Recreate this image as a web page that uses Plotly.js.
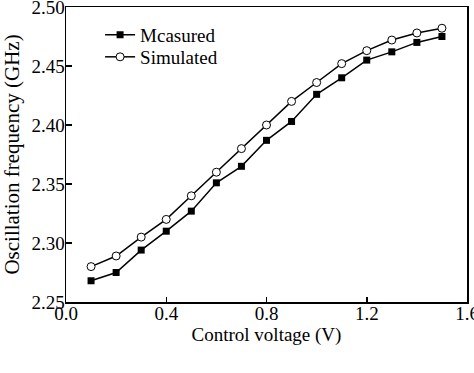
<!DOCTYPE html>
<html><head><meta charset="utf-8">
<script src="https://cdn.plot.ly/plotly-3.0.1.min.js"></script>
<style>html,body{margin:0;padding:0;background:#fff;}#chart{width:474px;height:373px;}</style>
</head><body><div id="chart"></div>
<script>
const voltage = [0.1,0.2,0.3,0.4,0.5,0.6,0.7,0.8,0.9,1.0,1.1,1.2,1.3,1.4,1.5];
const measured = [2.268,2.275,2.294,2.310,2.327,2.351,2.365,2.387,2.403,2.426,2.440,2.455,2.462,2.470,2.475];
const simulated = [2.280,2.289,2.305,2.320,2.340,2.360,2.380,2.400,2.420,2.436,2.452,2.463,2.472,2.478,2.482];
const xTicks = [0.0,0.4,0.8,1.2,1.6];
const xTickText = ['0.0','0.4','0.8','1.2','1.6'];
const yTicks = [2.25,2.30,2.35,2.40,2.45,2.50];
const yTickText = ['2.25','2.30','2.35','2.40','2.45','2.50'];

const fam = '"Liberation Serif", "Times New Roman", serif';
const font = {family:fam, size:19, color:'#000'};
const traces = [
  {x:voltage, y:measured, name:'Mcasured', mode:'lines+markers', type:'scatter', legend:'legend',
   line:{color:'#000', width:1.5},
   marker:{symbol:'square', size:7, color:'#000'}},
  {x:voltage, y:simulated, name:'Simulated', mode:'lines+markers', type:'scatter', legend:'legend2',
   line:{color:'#000', width:1.5},
   marker:{symbol:'circle', size:8, color:'#fff', line:{color:'#000', width:1}}}
];
const legFont = {family:fam, size:19, color:'#000'};
const layout = {
  width:474, height:373,
  margin:{l:66, r:7, t:7, b:71},
  paper_bgcolor:'#fff', plot_bgcolor:'#fff',
  font:font,
  showlegend:true,
  legend:{x:0.085, y:0.97, xanchor:'left', yanchor:'top', bgcolor:'rgba(0,0,0,0)', font:legFont, itemwidth:30},
  legend2:{x:0.085, y:0.895, xanchor:'left', yanchor:'top', bgcolor:'rgba(0,0,0,0)', font:legFont, itemwidth:30},
  xaxis:{range:[0,1.6], tickvals:xTicks, ticktext:xTickText, ticks:'inside', ticklen:5,
         tickcolor:'#000', tickwidth:1.5, showline:true, linecolor:'#000', linewidth:1.5,
         mirror:true, showgrid:false, zeroline:false, ticklabeloverflow:'allow', ticklabelstandoff:-6,
         title:{text:'Control voltage (V)', font:{family:fam, size:19, color:'#000'}, standoff:0},
         tickfont:{family:fam, size:19, color:'#000'}},
  yaxis:{range:[2.25,2.50], tickvals:yTicks, ticktext:yTickText, ticks:'inside', ticklen:6,
         tickcolor:'#000', tickwidth:1.5, showline:true, linecolor:'#000', linewidth:1.5,
         mirror:true, showgrid:false, zeroline:false, ticklabeloverflow:'allow', ticklabelstandoff:-4,
         title:{text:'Oscillation frequency (GHz)', font:{family:fam, size:21, color:'#000'}, standoff:8},
         tickfont:{family:fam, size:19, color:'#000'}}
};
Plotly.newPlot('chart', traces, layout, {displayModeBar:false, staticPlot:true});
</script></body></html>
